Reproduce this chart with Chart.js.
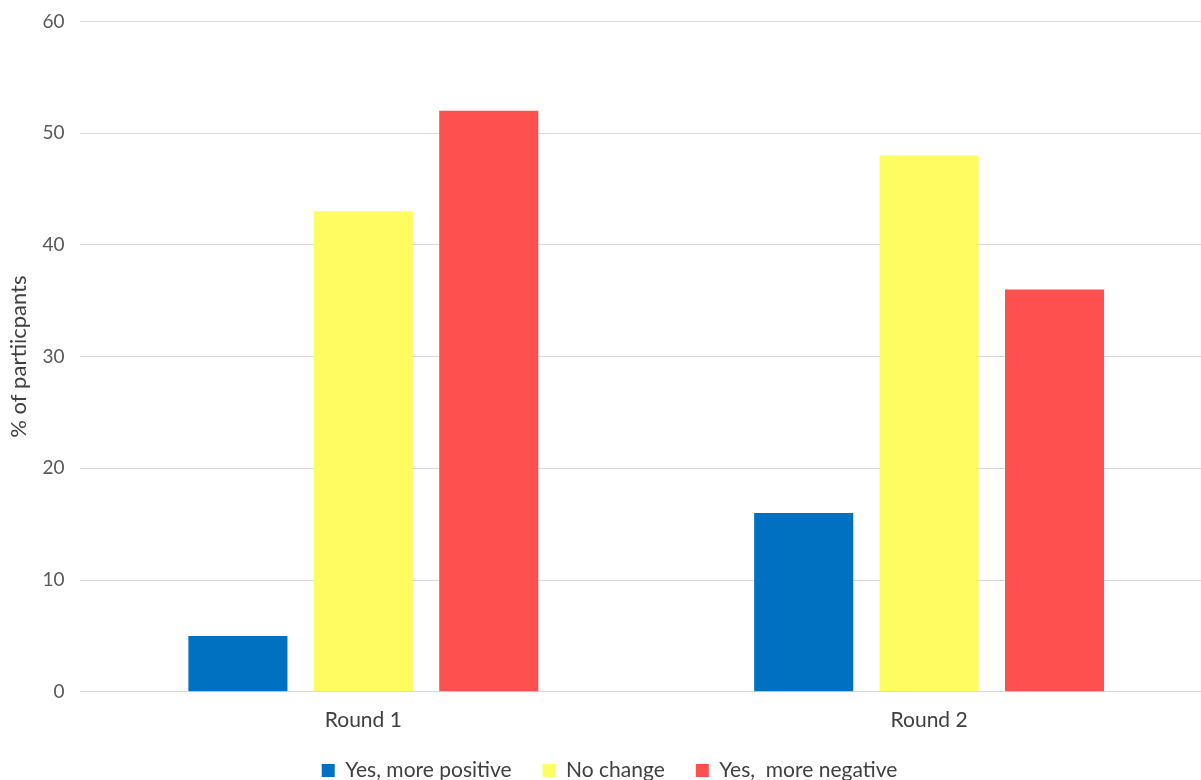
<!DOCTYPE html>
<html>
<head>
<meta charset="utf-8">
<script src="https://cdn.jsdelivr.net/npm/chart.js@4"></script>
<style>
    html, body { margin: 0; padding: 0; background: #fff; }
    #chartBox { width: 1201px; height: 780px; }
</style>
</head>
<body>
<div id="chartBox"><canvas id="chart" width="1201" height="780"></canvas></div>
<script>
(function () {

    'use strict';

    // data
    const rounds = ['Round 1', 'Round 2'];
    const morePositive = [5, 16];
    const noChange = [43, 48];
    const moreNegative = [52, 36];
    const yTicks = [0, 10, 20, 30, 40, 50, 60];

    const grey = '#595959';
    const font = "Lato, 'Open Sans', sans-serif";
    const legendTrim = 31;
    const legendLift = 20;
    const legendShift = 9;
    const xExtend = 11; // the original plot runs a little past the right edge

    window.addEventListener("load", init);

    // legend keeps wide gaps between items but sits closer to the axis labels
    const legendFit = {
        id: 'legendFit',
        beforeLayout(chart) {
            let lg = chart.legend;
            if (lg && !lg._trimmed) {
                lg.fit = function () {
                    Object.getPrototypeOf(this).fit.call(this);
                    this.height -= legendTrim;
                };
                lg._trimmed = true;
            }
        },
        afterLayout(chart) {
            let lg = chart.legend;
            lg.top -= legendLift;
            lg.height += legendTrim;
            lg.bottom = lg.top + lg.height;
            lg.left += legendShift;
            lg.right += legendShift;

            let xs = chart.scales.x;
            xs.right += xExtend;
            xs.width += xExtend;
            xs.configure();
            chart.chartArea.right += xExtend;
            chart.chartArea.width += xExtend;
        }
    };

    function init() {
        let values = {
            labels: rounds,
            datasets: [
                { label: 'Yes, more positive', data: morePositive, backgroundColor: '#0070C0' },
                { label: 'No change', data: noChange, backgroundColor: '#FDFD62' },
                { label: 'Yes,  more negative', data: moreNegative, backgroundColor: '#FF5050' }
            ]
        };

        let config = {
            type: 'bar',
            data: values,
            plugins: [legendFit],
            options: {
                responsive: false,
                animation: false,
                categoryPercentage: 0.665,
                barPercentage: 0.79,
                layout: { padding: 0 },
                plugins: {
                    tooltip: { enabled: false },
                    legend: {
                        position: 'bottom',
                        labels: {
                            color: '#404040',
                            font: { family: font, size: 21 },
                            boxWidth: 13,
                            boxHeight: 13,
                            padding: 31
                        }
                    }
                },
                scales: {
                    x: {
                        grid: { display: false, drawTicks: false },
                        border: { display: true, color: '#d9d9d9' },
                        ticks: { color: '#404040', font: { family: font, size: 21 }, padding: 16 }
                    },
                    y: {
                        min: 0,
                        max: 60,
                        afterBuildTicks: (axis) => { axis.ticks = yTicks.map(v => ({ value: v })); },
                        grid: { color: '#d9d9d9', drawTicks: true, tickLength: 6, tickColor: 'rgba(0,0,0,0)' },
                        border: { display: false },
                        ticks: { color: grey, font: { family: font, size: 19 }, padding: 10 },
                        title: {
                            display: true,
                            text: '% of partiicpants',
                            color: '#404040',
                            font: { family: font, size: 22 },
                            padding: { top: 6, bottom: 0 }
                        }
                    }
                }
            }
        };

        new Chart(id("chart"), config);
    }

    function id(idName) {
        return document.getElementById(idName);
    }

})();
</script>
</body>
</html>
